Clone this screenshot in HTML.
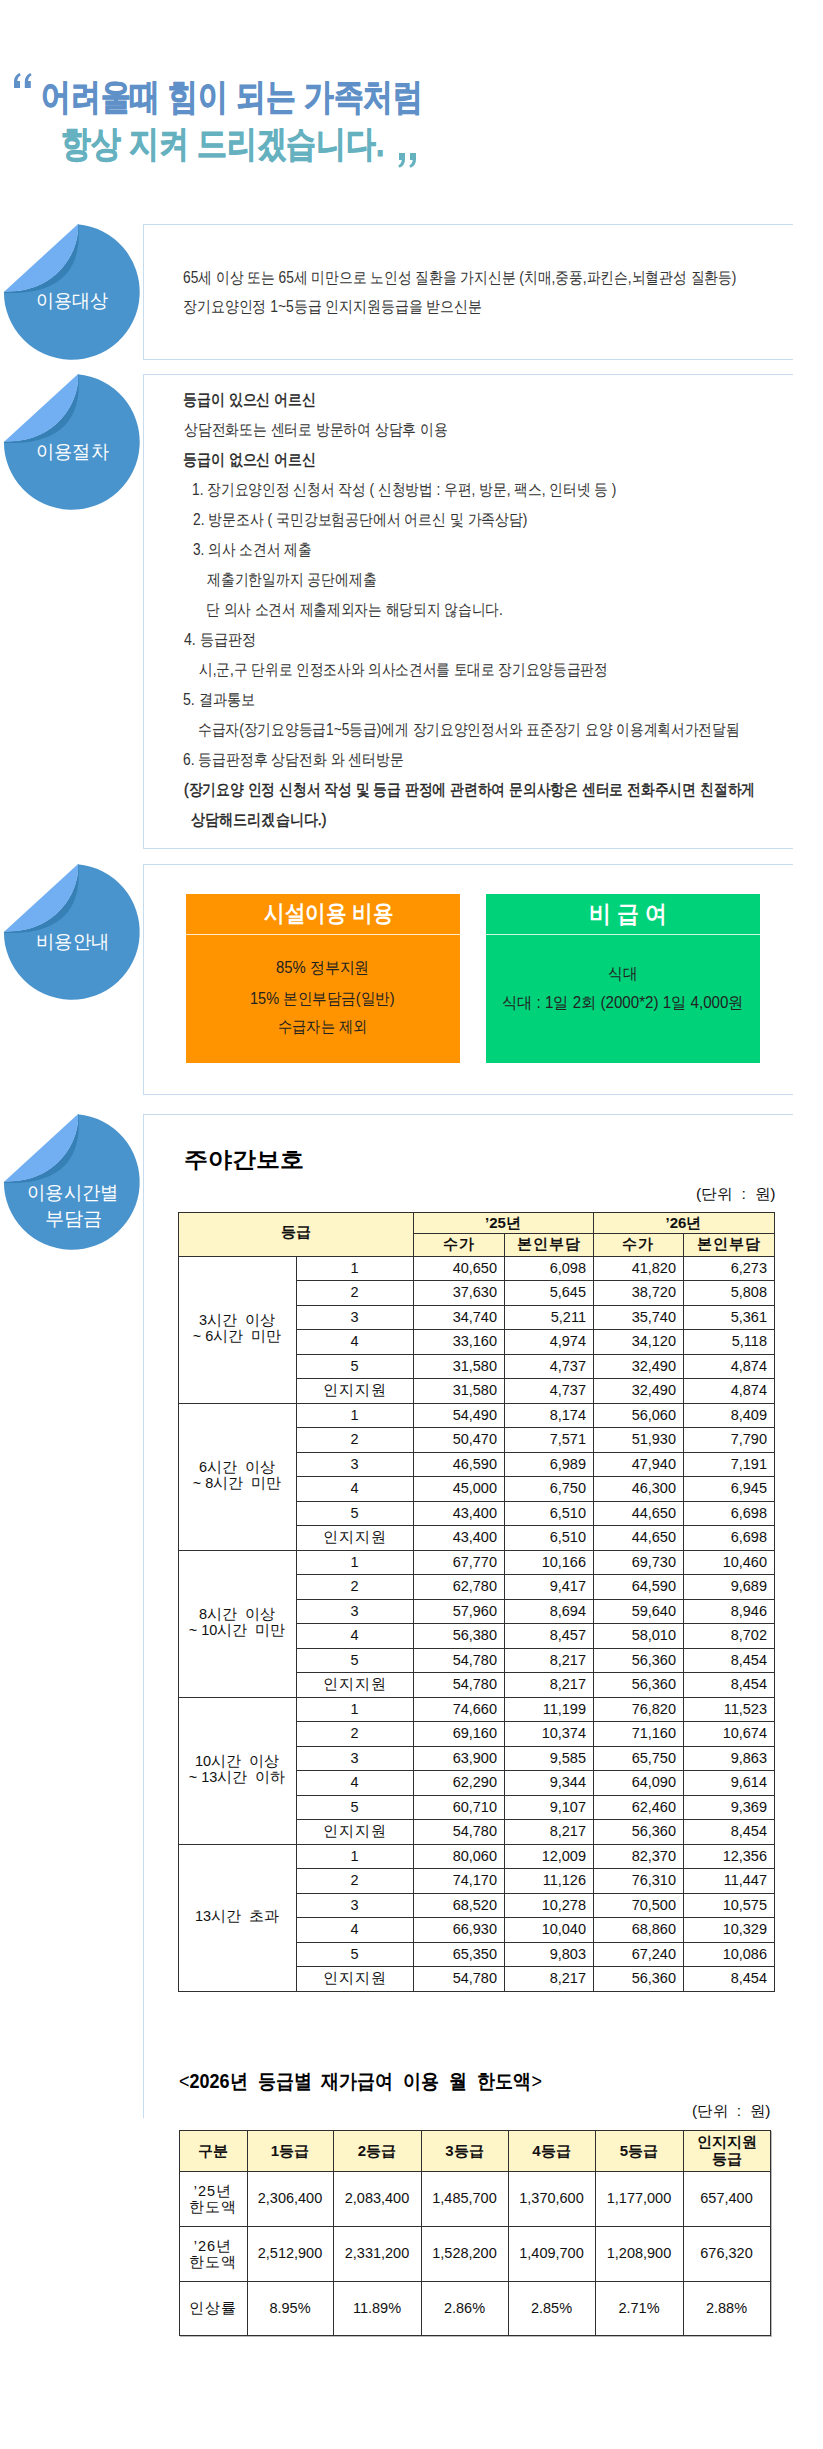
<!DOCTYPE html><html><head><meta charset="utf-8"><style>
*{margin:0;padding:0;box-sizing:border-box}
html,body{width:823px;height:2449px;background:#fff;overflow:hidden}
body{position:relative;font-family:"Liberation Sans",sans-serif}
.t{position:absolute;white-space:pre;line-height:1;transform-origin:0 0}
.box{position:absolute;left:143px;width:650px;border:1px solid #c8dcf0;border-right:none}
.badge{position:absolute;left:0;width:144px;height:140px}
.hl{position:absolute;height:1px;background:#303030}
.vl{position:absolute;width:1px;background:#303030}
.c{position:absolute;white-space:pre;line-height:1;font-size:14.5px;color:#111}
</style></head><body>
<svg style="position:absolute;left:0;top:0" width="440" height="180" viewBox="0 0 440 180">
<g fill="#6090c8">
<path d="M14,88 L20,88 L20,81 L17.3,81 Q17.6,77 20.8,75.3 L19.6,72.9 Q14,75.5 14,81.5 Z"/>
<path d="M24.8,88 L30.8,88 L30.8,81 L28.1,81 Q28.4,77 31.6,75.3 L30.4,72.9 Q24.8,75.5 24.8,81.5 Z"/>
</g>
<g fill="#66b1bf">
<path d="M399,153 L405,153 L405,159.5 Q405,165.5 399.4,167.8 L398.3,165.6 Q401.5,163.8 401.7,160 L399,160 Z"/>
<path d="M410,153 L416,153 L416,159.5 Q416,165.5 410.4,167.8 L409.3,165.6 Q412.5,163.8 412.7,160 L410,160 Z"/>
</g></svg>
<div class="box" style="top:224px;height:136px"></div>
<div class="box" style="top:374px;height:475px"></div>
<div class="box" style="top:864px;height:231px"></div>
<div class="box" style="top:1114px;height:1004px;border-bottom:none"></div>
<svg class="badge" style="top:224px" viewBox="0 0 144 140">
<path fill="#4a94cd" d="M77.8,0.3 A67.9,67.9 0 1 1 3.9,68 L4.4,67.4 C58.77,69.53 80.82,24 77.8,0.3 Z"/>
<path fill="#3680b6" d="M4.4,67.4 C58.77,69.53 80.82,24 77.8,0.3 L78.3,0.3 C83.83,58.83 43.49,70.8 4.4,68.9 Z"/>
<path fill="#72aef2" d="M4.4,67.4 L77.8,0.3 C80.82,24 58.77,69.53 4.4,67.4 Z"/>
</svg>
<svg class="badge" style="top:374px" viewBox="0 0 144 140">
<path fill="#4a94cd" d="M77.8,0.3 A67.9,67.9 0 1 1 3.9,68 L4.4,67.4 C58.77,69.53 80.82,24 77.8,0.3 Z"/>
<path fill="#3680b6" d="M4.4,67.4 C58.77,69.53 80.82,24 77.8,0.3 L78.3,0.3 C83.83,58.83 43.49,70.8 4.4,68.9 Z"/>
<path fill="#72aef2" d="M4.4,67.4 L77.8,0.3 C80.82,24 58.77,69.53 4.4,67.4 Z"/>
</svg>
<svg class="badge" style="top:864px" viewBox="0 0 144 140">
<path fill="#4a94cd" d="M77.8,0.3 A67.9,67.9 0 1 1 3.9,68 L4.4,67.4 C58.77,69.53 80.82,24 77.8,0.3 Z"/>
<path fill="#3680b6" d="M4.4,67.4 C58.77,69.53 80.82,24 77.8,0.3 L78.3,0.3 C83.83,58.83 43.49,70.8 4.4,68.9 Z"/>
<path fill="#72aef2" d="M4.4,67.4 L77.8,0.3 C80.82,24 58.77,69.53 4.4,67.4 Z"/>
</svg>
<svg class="badge" style="top:1114px" viewBox="0 0 144 140">
<path fill="#4a94cd" d="M77.8,0.3 A67.9,67.9 0 1 1 3.9,68 L4.4,67.4 C58.77,69.53 80.82,24 77.8,0.3 Z"/>
<path fill="#3680b6" d="M4.4,67.4 C58.77,69.53 80.82,24 77.8,0.3 L78.3,0.3 C83.83,58.83 43.49,70.8 4.4,68.9 Z"/>
<path fill="#72aef2" d="M4.4,67.4 L77.8,0.3 C80.82,24 58.77,69.53 4.4,67.4 Z"/>
</svg>
<div style="position:absolute;left:186px;top:894px;width:274px;height:169px;background:#ff9400"></div>
<div style="position:absolute;left:186px;top:934px;width:274px;height:1px;background:#ffe9c8"></div>
<div style="position:absolute;left:486px;top:894px;width:274px;height:169px;background:#00d27a"></div>
<div style="position:absolute;left:486px;top:934px;width:274px;height:1px;background:#d0f7e4"></div>
<div class="t" style="left:41.35px;top:78.75px;font-size:36px;font-weight:bold;color:#6090c8;font-family:'Liberation Sans',sans-serif;transform:scaleX(0.8268);-webkit-text-stroke:0.9px #6090c8;">어려울때 힘이 되는 가족처럼</div>
<div class="t" style="left:61.34px;top:126.35px;font-size:36px;font-weight:bold;color:#66b1bf;font-family:'Liberation Sans',sans-serif;transform:scaleX(0.829);-webkit-text-stroke:0.9px #66b1bf;">항상 지켜 드리겠습니다.</div>
<div class="t" style="left:183.14px;top:269.65px;font-size:16px;font-weight:normal;color:#333;font-family:'Liberation Sans',sans-serif;transform:scaleX(0.8598);">65세 이상 또는 65세 미만으로 노인성 질환을 가지신분 (치매,중풍,파킨슨,뇌혈관성 질환등)</div>
<div class="t" style="left:183.13px;top:298.75px;font-size:16px;font-weight:normal;color:#333;font-family:'Liberation Sans',sans-serif;transform:scaleX(0.8678);">장기요양인정 1~5등급 인지지원등급을 받으신분</div>
<div class="t" style="left:35.8px;top:291.4px;font-size:19px;font-weight:normal;color:#fff;font-family:'Liberation Sans',sans-serif;transform:scaleX(0.95);">이용대상</div>
<div class="t" style="left:35.98px;top:441.8px;font-size:19px;font-weight:normal;color:#fff;font-family:'Liberation Sans',sans-serif;transform:scaleX(0.9595);">이용절차</div>
<div class="t" style="left:36.47px;top:931.75px;font-size:19px;font-weight:normal;color:#fff;font-family:'Liberation Sans',sans-serif;transform:scaleX(0.9667);">비용안내</div>
<div class="t" style="left:26.87px;top:1183.25px;font-size:19px;font-weight:normal;color:#fff;font-family:'Liberation Sans',sans-serif;transform:scaleX(0.9648);">이용시간별</div>
<div class="t" style="left:44.69px;top:1208.55px;font-size:19px;font-weight:normal;color:#fff;font-family:'Liberation Sans',sans-serif;transform:scaleX(1.0055);">부담금</div>
<div class="t" style="left:263.8px;top:902.2px;font-size:23px;font-weight:bold;color:#fff;font-family:'Liberation Sans',sans-serif;transform:scaleX(0.8951);">시설이용 비용</div>
<div class="t" style="left:276.0px;top:960.0px;font-size:16px;font-weight:normal;color:#222;font-family:'Liberation Sans',sans-serif;transform:scaleX(0.9293);">85% 정부지원</div>
<div class="t" style="left:250.49px;top:990.75px;font-size:16px;font-weight:normal;color:#222;font-family:'Liberation Sans',sans-serif;transform:scaleX(0.9083);">15% 본인부담금(일반)</div>
<div class="t" style="left:278.11px;top:1019.3px;font-size:16px;font-weight:normal;color:#222;font-family:'Liberation Sans',sans-serif;transform:scaleX(0.8866);">수급자는 제외</div>
<div class="t" style="left:589.17px;top:901.7px;font-size:24px;font-weight:bold;color:#fff;font-family:'Liberation Sans',sans-serif;transform:scaleX(0.9125);">비 급 여</div>
<div class="t" style="left:607.89px;top:966.1px;font-size:16px;font-weight:normal;color:#222;font-family:'Liberation Sans',sans-serif;transform:scaleX(0.9138);">식대</div>
<div class="t" style="left:501.55px;top:995.15px;font-size:16px;font-weight:normal;color:#222;font-family:'Liberation Sans',sans-serif;transform:scaleX(0.9466);">식대 : 1일 2회 (2000*2) 1일 4,000원</div>
<div class="t" style="left:183.91px;top:1148.55px;font-size:22px;font-weight:bold;color:#000;font-family:'Liberation Serif',serif;transform:scaleX(1.0889);">주야간보호</div>
<div class="t" style="left:695.65px;top:1186.2px;font-size:15px;font-weight:normal;color:#111;font-family:'Liberation Sans',sans-serif;transform:scaleX(1.0486);">(단위  :  원)</div>
<div class="t" style="left:178.9px;top:2070.7px;font-size:20px;font-weight:bold;color:#000;font-family:'Liberation Sans',sans-serif;transform:scaleX(0.8995);"><span style="font-weight:normal">&lt;</span>2026년  등급별  재가급여  이용  월  한도액<span style="font-weight:normal">&gt;</span></div>
<div class="t" style="left:691.97px;top:2102.8px;font-size:15px;font-weight:normal;color:#111;font-family:'Liberation Sans',sans-serif;transform:scaleX(1.0338);">(단위  :  원)</div>
<div class="t" style="left:183.13px;top:391.9px;font-size:16px;font-weight:normal;color:#222;font-family:'Liberation Sans',sans-serif;transform:scaleX(0.87);-webkit-text-stroke:0.45px #222;">등급이 있으신 어르신</div>
<div class="t" style="left:183.84px;top:421.9px;font-size:16px;font-weight:normal;color:#333;font-family:'Liberation Sans',sans-serif;transform:scaleX(0.8618);">상담전화또는 센터로 방문하여 상담후 이용</div>
<div class="t" style="left:183.13px;top:451.9px;font-size:16px;font-weight:normal;color:#222;font-family:'Liberation Sans',sans-serif;transform:scaleX(0.87);-webkit-text-stroke:0.45px #222;">등급이 없으신 어르신</div>
<div class="t" style="left:191.64px;top:481.9px;font-size:16px;font-weight:normal;color:#333;font-family:'Liberation Sans',sans-serif;transform:scaleX(0.857);">1. 장기요양인정 신청서 작성 ( 신청방법 : 우편, 방문, 팩스, 인터넷 등 )</div>
<div class="t" style="left:192.5px;top:511.9px;font-size:16px;font-weight:normal;color:#333;font-family:'Liberation Sans',sans-serif;transform:scaleX(0.865);">2. 방문조사 ( 국민강보험공단에서 어르신 및 가족상담)</div>
<div class="t" style="left:192.5px;top:541.9px;font-size:16px;font-weight:normal;color:#333;font-family:'Liberation Sans',sans-serif;transform:scaleX(0.8536);">3. 의사 소견서 제출</div>
<div class="t" style="left:207.0px;top:571.9px;font-size:16px;font-weight:normal;color:#333;font-family:'Liberation Sans',sans-serif;transform:scaleX(0.8626);">제출기한일까지 공단에제출</div>
<div class="t" style="left:206.14px;top:601.9px;font-size:16px;font-weight:normal;color:#333;font-family:'Liberation Sans',sans-serif;transform:scaleX(0.8565);">단 의사 소견서 제출제외자는 해당되지 않습니다.</div>
<div class="t" style="left:183.7px;top:631.9px;font-size:16px;font-weight:normal;color:#333;font-family:'Liberation Sans',sans-serif;transform:scaleX(0.8838);">4. 등급판정</div>
<div class="t" style="left:199.3px;top:661.9px;font-size:16px;font-weight:normal;color:#333;font-family:'Liberation Sans',sans-serif;transform:scaleX(0.8526);">시,군,구 단위로 인정조사와 의사소견서를 토대로 장기요양등급판정</div>
<div class="t" style="left:182.82px;top:691.9px;font-size:16px;font-weight:normal;color:#333;font-family:'Liberation Sans',sans-serif;transform:scaleX(0.8838);">5. 결과통보</div>
<div class="t" style="left:198.44px;top:721.9px;font-size:16px;font-weight:normal;color:#333;font-family:'Liberation Sans',sans-serif;transform:scaleX(0.8576);">수급자(장기요양등급1~5등급)에게 장기요양인정서와 표준장기 요양 이용계획서가전달됨</div>
<div class="t" style="left:182.83px;top:751.9px;font-size:16px;font-weight:normal;color:#333;font-family:'Liberation Sans',sans-serif;transform:scaleX(0.8656);">6. 등급판정후 상담전화 와 센터방문</div>
<div class="t" style="left:183.84px;top:781.9px;font-size:16px;font-weight:normal;color:#222;font-family:'Liberation Sans',sans-serif;transform:scaleX(0.8624);-webkit-text-stroke:0.45px #222;">(장기요양 인정 신청서 작성 및 등급 판정에 관련하여 문의사항은 센터로 전화주시면 친절하게</div>
<div class="t" style="left:190.62px;top:811.9px;font-size:16px;font-weight:normal;color:#222;font-family:'Liberation Sans',sans-serif;transform:scaleX(0.8803);-webkit-text-stroke:0.45px #222;">상담해드리겠습니다.)</div>
<div style="position:absolute;left:178px;top:1212px;width:596px;height:44px;background:#fef5c9"></div>
<div class="hl" style="left:178px;top:1212px;width:597px"></div>
<div class="hl" style="left:413px;top:1233px;width:362px"></div>
<div class="hl" style="left:178px;top:1256px;width:597px"></div>
<div class="hl" style="left:296px;top:1280px;width:479px"></div>
<div class="hl" style="left:296px;top:1305px;width:479px"></div>
<div class="hl" style="left:296px;top:1329px;width:479px"></div>
<div class="hl" style="left:296px;top:1354px;width:479px"></div>
<div class="hl" style="left:296px;top:1378px;width:479px"></div>
<div class="hl" style="left:178px;top:1403px;width:597px"></div>
<div class="hl" style="left:296px;top:1427px;width:479px"></div>
<div class="hl" style="left:296px;top:1452px;width:479px"></div>
<div class="hl" style="left:296px;top:1476px;width:479px"></div>
<div class="hl" style="left:296px;top:1501px;width:479px"></div>
<div class="hl" style="left:296px;top:1525px;width:479px"></div>
<div class="hl" style="left:178px;top:1550px;width:597px"></div>
<div class="hl" style="left:296px;top:1574px;width:479px"></div>
<div class="hl" style="left:296px;top:1599px;width:479px"></div>
<div class="hl" style="left:296px;top:1623px;width:479px"></div>
<div class="hl" style="left:296px;top:1648px;width:479px"></div>
<div class="hl" style="left:296px;top:1672px;width:479px"></div>
<div class="hl" style="left:178px;top:1697px;width:597px"></div>
<div class="hl" style="left:296px;top:1721px;width:479px"></div>
<div class="hl" style="left:296px;top:1746px;width:479px"></div>
<div class="hl" style="left:296px;top:1770px;width:479px"></div>
<div class="hl" style="left:296px;top:1795px;width:479px"></div>
<div class="hl" style="left:296px;top:1819px;width:479px"></div>
<div class="hl" style="left:178px;top:1844px;width:597px"></div>
<div class="hl" style="left:296px;top:1868px;width:479px"></div>
<div class="hl" style="left:296px;top:1893px;width:479px"></div>
<div class="hl" style="left:296px;top:1917px;width:479px"></div>
<div class="hl" style="left:296px;top:1942px;width:479px"></div>
<div class="hl" style="left:296px;top:1966px;width:479px"></div>
<div class="hl" style="left:178px;top:1991px;width:597px"></div>
<div class="vl" style="left:178px;top:1212px;height:780px"></div>
<div class="vl" style="left:774px;top:1212px;height:780px"></div>
<div class="vl" style="left:296px;top:1256px;height:736px"></div>
<div class="vl" style="left:413px;top:1212px;height:780px"></div>
<div class="vl" style="left:593px;top:1212px;height:780px"></div>
<div class="vl" style="left:504px;top:1233px;height:759px"></div>
<div class="vl" style="left:683px;top:1233px;height:759px"></div>
<div class="c" style="left:178px;top:1209.5px;width:235px;height:44.0px;line-height:44.0px;text-align:center;font-size:15px;font-weight:bold;">등급</div>
<div class="c" style="left:413px;top:1211.5px;width:180px;height:21.0px;line-height:21.0px;text-align:center;font-size:15px;font-weight:bold;">’25년</div>
<div class="c" style="left:593px;top:1211.5px;width:181px;height:21.0px;line-height:21.0px;text-align:center;font-size:15px;font-weight:bold;">’26년</div>
<div class="c" style="left:413px;top:1231.5px;width:91px;height:23.0px;line-height:23.0px;text-align:center;font-size:15px;font-weight:bold;letter-spacing:1px;">수가</div>
<div class="c" style="left:504px;top:1231.5px;width:89px;height:23.0px;line-height:23.0px;text-align:center;font-size:15px;font-weight:bold;letter-spacing:1px;">본인부담</div>
<div class="c" style="left:593px;top:1231.5px;width:90px;height:23.0px;line-height:23.0px;text-align:center;font-size:15px;font-weight:bold;letter-spacing:1px;">수가</div>
<div class="c" style="left:683px;top:1231.5px;width:91px;height:23.0px;line-height:23.0px;text-align:center;font-size:15px;font-weight:bold;letter-spacing:1px;">본인부담</div>
<div class="c" style="left:178px;top:1312.3px;width:118px;height:16.0px;line-height:16.0px;text-align:center;font-size:14.5px;">3시간  이상</div>
<div class="c" style="left:178px;top:1328.3px;width:118px;height:16.0px;line-height:16.0px;text-align:center;font-size:14.5px;">~ 6시간  미만</div>
<div class="c" style="left:296px;top:1256px;width:117px;height:24px;line-height:24px;text-align:center;font-size:14.5px;">1</div>
<div class="c" style="left:413px;top:1256px;width:91px;height:24px;line-height:24px;text-align:right;font-size:14.5px;padding-right:7px;">40,650</div>
<div class="c" style="left:504px;top:1256px;width:89px;height:24px;line-height:24px;text-align:right;font-size:14.5px;padding-right:7px;">6,098</div>
<div class="c" style="left:593px;top:1256px;width:90px;height:24px;line-height:24px;text-align:right;font-size:14.5px;padding-right:7px;">41,820</div>
<div class="c" style="left:683px;top:1256px;width:91px;height:24px;line-height:24px;text-align:right;font-size:14.5px;padding-right:7px;">6,273</div>
<div class="c" style="left:296px;top:1280px;width:117px;height:25px;line-height:25px;text-align:center;font-size:14.5px;">2</div>
<div class="c" style="left:413px;top:1280px;width:91px;height:25px;line-height:25px;text-align:right;font-size:14.5px;padding-right:7px;">37,630</div>
<div class="c" style="left:504px;top:1280px;width:89px;height:25px;line-height:25px;text-align:right;font-size:14.5px;padding-right:7px;">5,645</div>
<div class="c" style="left:593px;top:1280px;width:90px;height:25px;line-height:25px;text-align:right;font-size:14.5px;padding-right:7px;">38,720</div>
<div class="c" style="left:683px;top:1280px;width:91px;height:25px;line-height:25px;text-align:right;font-size:14.5px;padding-right:7px;">5,808</div>
<div class="c" style="left:296px;top:1305px;width:117px;height:24px;line-height:24px;text-align:center;font-size:14.5px;">3</div>
<div class="c" style="left:413px;top:1305px;width:91px;height:24px;line-height:24px;text-align:right;font-size:14.5px;padding-right:7px;">34,740</div>
<div class="c" style="left:504px;top:1305px;width:89px;height:24px;line-height:24px;text-align:right;font-size:14.5px;padding-right:7px;">5,211</div>
<div class="c" style="left:593px;top:1305px;width:90px;height:24px;line-height:24px;text-align:right;font-size:14.5px;padding-right:7px;">35,740</div>
<div class="c" style="left:683px;top:1305px;width:91px;height:24px;line-height:24px;text-align:right;font-size:14.5px;padding-right:7px;">5,361</div>
<div class="c" style="left:296px;top:1329px;width:117px;height:25px;line-height:25px;text-align:center;font-size:14.5px;">4</div>
<div class="c" style="left:413px;top:1329px;width:91px;height:25px;line-height:25px;text-align:right;font-size:14.5px;padding-right:7px;">33,160</div>
<div class="c" style="left:504px;top:1329px;width:89px;height:25px;line-height:25px;text-align:right;font-size:14.5px;padding-right:7px;">4,974</div>
<div class="c" style="left:593px;top:1329px;width:90px;height:25px;line-height:25px;text-align:right;font-size:14.5px;padding-right:7px;">34,120</div>
<div class="c" style="left:683px;top:1329px;width:91px;height:25px;line-height:25px;text-align:right;font-size:14.5px;padding-right:7px;">5,118</div>
<div class="c" style="left:296px;top:1354px;width:117px;height:24px;line-height:24px;text-align:center;font-size:14.5px;">5</div>
<div class="c" style="left:413px;top:1354px;width:91px;height:24px;line-height:24px;text-align:right;font-size:14.5px;padding-right:7px;">31,580</div>
<div class="c" style="left:504px;top:1354px;width:89px;height:24px;line-height:24px;text-align:right;font-size:14.5px;padding-right:7px;">4,737</div>
<div class="c" style="left:593px;top:1354px;width:90px;height:24px;line-height:24px;text-align:right;font-size:14.5px;padding-right:7px;">32,490</div>
<div class="c" style="left:683px;top:1354px;width:91px;height:24px;line-height:24px;text-align:right;font-size:14.5px;padding-right:7px;">4,874</div>
<div class="c" style="left:296px;top:1378px;width:117px;height:25px;line-height:25px;text-align:center;font-size:14.5px;letter-spacing:1px;">인지지원</div>
<div class="c" style="left:413px;top:1378px;width:91px;height:25px;line-height:25px;text-align:right;font-size:14.5px;padding-right:7px;">31,580</div>
<div class="c" style="left:504px;top:1378px;width:89px;height:25px;line-height:25px;text-align:right;font-size:14.5px;padding-right:7px;">4,737</div>
<div class="c" style="left:593px;top:1378px;width:90px;height:25px;line-height:25px;text-align:right;font-size:14.5px;padding-right:7px;">32,490</div>
<div class="c" style="left:683px;top:1378px;width:91px;height:25px;line-height:25px;text-align:right;font-size:14.5px;padding-right:7px;">4,874</div>
<div class="c" style="left:178px;top:1459.3px;width:118px;height:16.0px;line-height:16.0px;text-align:center;font-size:14.5px;">6시간  이상</div>
<div class="c" style="left:178px;top:1475.3px;width:118px;height:16.0px;line-height:16.0px;text-align:center;font-size:14.5px;">~ 8시간  미만</div>
<div class="c" style="left:296px;top:1403px;width:117px;height:24px;line-height:24px;text-align:center;font-size:14.5px;">1</div>
<div class="c" style="left:413px;top:1403px;width:91px;height:24px;line-height:24px;text-align:right;font-size:14.5px;padding-right:7px;">54,490</div>
<div class="c" style="left:504px;top:1403px;width:89px;height:24px;line-height:24px;text-align:right;font-size:14.5px;padding-right:7px;">8,174</div>
<div class="c" style="left:593px;top:1403px;width:90px;height:24px;line-height:24px;text-align:right;font-size:14.5px;padding-right:7px;">56,060</div>
<div class="c" style="left:683px;top:1403px;width:91px;height:24px;line-height:24px;text-align:right;font-size:14.5px;padding-right:7px;">8,409</div>
<div class="c" style="left:296px;top:1427px;width:117px;height:25px;line-height:25px;text-align:center;font-size:14.5px;">2</div>
<div class="c" style="left:413px;top:1427px;width:91px;height:25px;line-height:25px;text-align:right;font-size:14.5px;padding-right:7px;">50,470</div>
<div class="c" style="left:504px;top:1427px;width:89px;height:25px;line-height:25px;text-align:right;font-size:14.5px;padding-right:7px;">7,571</div>
<div class="c" style="left:593px;top:1427px;width:90px;height:25px;line-height:25px;text-align:right;font-size:14.5px;padding-right:7px;">51,930</div>
<div class="c" style="left:683px;top:1427px;width:91px;height:25px;line-height:25px;text-align:right;font-size:14.5px;padding-right:7px;">7,790</div>
<div class="c" style="left:296px;top:1452px;width:117px;height:24px;line-height:24px;text-align:center;font-size:14.5px;">3</div>
<div class="c" style="left:413px;top:1452px;width:91px;height:24px;line-height:24px;text-align:right;font-size:14.5px;padding-right:7px;">46,590</div>
<div class="c" style="left:504px;top:1452px;width:89px;height:24px;line-height:24px;text-align:right;font-size:14.5px;padding-right:7px;">6,989</div>
<div class="c" style="left:593px;top:1452px;width:90px;height:24px;line-height:24px;text-align:right;font-size:14.5px;padding-right:7px;">47,940</div>
<div class="c" style="left:683px;top:1452px;width:91px;height:24px;line-height:24px;text-align:right;font-size:14.5px;padding-right:7px;">7,191</div>
<div class="c" style="left:296px;top:1476px;width:117px;height:25px;line-height:25px;text-align:center;font-size:14.5px;">4</div>
<div class="c" style="left:413px;top:1476px;width:91px;height:25px;line-height:25px;text-align:right;font-size:14.5px;padding-right:7px;">45,000</div>
<div class="c" style="left:504px;top:1476px;width:89px;height:25px;line-height:25px;text-align:right;font-size:14.5px;padding-right:7px;">6,750</div>
<div class="c" style="left:593px;top:1476px;width:90px;height:25px;line-height:25px;text-align:right;font-size:14.5px;padding-right:7px;">46,300</div>
<div class="c" style="left:683px;top:1476px;width:91px;height:25px;line-height:25px;text-align:right;font-size:14.5px;padding-right:7px;">6,945</div>
<div class="c" style="left:296px;top:1501px;width:117px;height:24px;line-height:24px;text-align:center;font-size:14.5px;">5</div>
<div class="c" style="left:413px;top:1501px;width:91px;height:24px;line-height:24px;text-align:right;font-size:14.5px;padding-right:7px;">43,400</div>
<div class="c" style="left:504px;top:1501px;width:89px;height:24px;line-height:24px;text-align:right;font-size:14.5px;padding-right:7px;">6,510</div>
<div class="c" style="left:593px;top:1501px;width:90px;height:24px;line-height:24px;text-align:right;font-size:14.5px;padding-right:7px;">44,650</div>
<div class="c" style="left:683px;top:1501px;width:91px;height:24px;line-height:24px;text-align:right;font-size:14.5px;padding-right:7px;">6,698</div>
<div class="c" style="left:296px;top:1525px;width:117px;height:25px;line-height:25px;text-align:center;font-size:14.5px;letter-spacing:1px;">인지지원</div>
<div class="c" style="left:413px;top:1525px;width:91px;height:25px;line-height:25px;text-align:right;font-size:14.5px;padding-right:7px;">43,400</div>
<div class="c" style="left:504px;top:1525px;width:89px;height:25px;line-height:25px;text-align:right;font-size:14.5px;padding-right:7px;">6,510</div>
<div class="c" style="left:593px;top:1525px;width:90px;height:25px;line-height:25px;text-align:right;font-size:14.5px;padding-right:7px;">44,650</div>
<div class="c" style="left:683px;top:1525px;width:91px;height:25px;line-height:25px;text-align:right;font-size:14.5px;padding-right:7px;">6,698</div>
<div class="c" style="left:178px;top:1606.3px;width:118px;height:16.0px;line-height:16.0px;text-align:center;font-size:14.5px;">8시간  이상</div>
<div class="c" style="left:178px;top:1622.3px;width:118px;height:16.0px;line-height:16.0px;text-align:center;font-size:14.5px;">~ 10시간  미만</div>
<div class="c" style="left:296px;top:1550px;width:117px;height:24px;line-height:24px;text-align:center;font-size:14.5px;">1</div>
<div class="c" style="left:413px;top:1550px;width:91px;height:24px;line-height:24px;text-align:right;font-size:14.5px;padding-right:7px;">67,770</div>
<div class="c" style="left:504px;top:1550px;width:89px;height:24px;line-height:24px;text-align:right;font-size:14.5px;padding-right:7px;">10,166</div>
<div class="c" style="left:593px;top:1550px;width:90px;height:24px;line-height:24px;text-align:right;font-size:14.5px;padding-right:7px;">69,730</div>
<div class="c" style="left:683px;top:1550px;width:91px;height:24px;line-height:24px;text-align:right;font-size:14.5px;padding-right:7px;">10,460</div>
<div class="c" style="left:296px;top:1574px;width:117px;height:25px;line-height:25px;text-align:center;font-size:14.5px;">2</div>
<div class="c" style="left:413px;top:1574px;width:91px;height:25px;line-height:25px;text-align:right;font-size:14.5px;padding-right:7px;">62,780</div>
<div class="c" style="left:504px;top:1574px;width:89px;height:25px;line-height:25px;text-align:right;font-size:14.5px;padding-right:7px;">9,417</div>
<div class="c" style="left:593px;top:1574px;width:90px;height:25px;line-height:25px;text-align:right;font-size:14.5px;padding-right:7px;">64,590</div>
<div class="c" style="left:683px;top:1574px;width:91px;height:25px;line-height:25px;text-align:right;font-size:14.5px;padding-right:7px;">9,689</div>
<div class="c" style="left:296px;top:1599px;width:117px;height:24px;line-height:24px;text-align:center;font-size:14.5px;">3</div>
<div class="c" style="left:413px;top:1599px;width:91px;height:24px;line-height:24px;text-align:right;font-size:14.5px;padding-right:7px;">57,960</div>
<div class="c" style="left:504px;top:1599px;width:89px;height:24px;line-height:24px;text-align:right;font-size:14.5px;padding-right:7px;">8,694</div>
<div class="c" style="left:593px;top:1599px;width:90px;height:24px;line-height:24px;text-align:right;font-size:14.5px;padding-right:7px;">59,640</div>
<div class="c" style="left:683px;top:1599px;width:91px;height:24px;line-height:24px;text-align:right;font-size:14.5px;padding-right:7px;">8,946</div>
<div class="c" style="left:296px;top:1623px;width:117px;height:25px;line-height:25px;text-align:center;font-size:14.5px;">4</div>
<div class="c" style="left:413px;top:1623px;width:91px;height:25px;line-height:25px;text-align:right;font-size:14.5px;padding-right:7px;">56,380</div>
<div class="c" style="left:504px;top:1623px;width:89px;height:25px;line-height:25px;text-align:right;font-size:14.5px;padding-right:7px;">8,457</div>
<div class="c" style="left:593px;top:1623px;width:90px;height:25px;line-height:25px;text-align:right;font-size:14.5px;padding-right:7px;">58,010</div>
<div class="c" style="left:683px;top:1623px;width:91px;height:25px;line-height:25px;text-align:right;font-size:14.5px;padding-right:7px;">8,702</div>
<div class="c" style="left:296px;top:1648px;width:117px;height:24px;line-height:24px;text-align:center;font-size:14.5px;">5</div>
<div class="c" style="left:413px;top:1648px;width:91px;height:24px;line-height:24px;text-align:right;font-size:14.5px;padding-right:7px;">54,780</div>
<div class="c" style="left:504px;top:1648px;width:89px;height:24px;line-height:24px;text-align:right;font-size:14.5px;padding-right:7px;">8,217</div>
<div class="c" style="left:593px;top:1648px;width:90px;height:24px;line-height:24px;text-align:right;font-size:14.5px;padding-right:7px;">56,360</div>
<div class="c" style="left:683px;top:1648px;width:91px;height:24px;line-height:24px;text-align:right;font-size:14.5px;padding-right:7px;">8,454</div>
<div class="c" style="left:296px;top:1672px;width:117px;height:25px;line-height:25px;text-align:center;font-size:14.5px;letter-spacing:1px;">인지지원</div>
<div class="c" style="left:413px;top:1672px;width:91px;height:25px;line-height:25px;text-align:right;font-size:14.5px;padding-right:7px;">54,780</div>
<div class="c" style="left:504px;top:1672px;width:89px;height:25px;line-height:25px;text-align:right;font-size:14.5px;padding-right:7px;">8,217</div>
<div class="c" style="left:593px;top:1672px;width:90px;height:25px;line-height:25px;text-align:right;font-size:14.5px;padding-right:7px;">56,360</div>
<div class="c" style="left:683px;top:1672px;width:91px;height:25px;line-height:25px;text-align:right;font-size:14.5px;padding-right:7px;">8,454</div>
<div class="c" style="left:178px;top:1753.3px;width:118px;height:16.0px;line-height:16.0px;text-align:center;font-size:14.5px;">10시간  이상</div>
<div class="c" style="left:178px;top:1769.3px;width:118px;height:16.0px;line-height:16.0px;text-align:center;font-size:14.5px;">~ 13시간  이하</div>
<div class="c" style="left:296px;top:1697px;width:117px;height:24px;line-height:24px;text-align:center;font-size:14.5px;">1</div>
<div class="c" style="left:413px;top:1697px;width:91px;height:24px;line-height:24px;text-align:right;font-size:14.5px;padding-right:7px;">74,660</div>
<div class="c" style="left:504px;top:1697px;width:89px;height:24px;line-height:24px;text-align:right;font-size:14.5px;padding-right:7px;">11,199</div>
<div class="c" style="left:593px;top:1697px;width:90px;height:24px;line-height:24px;text-align:right;font-size:14.5px;padding-right:7px;">76,820</div>
<div class="c" style="left:683px;top:1697px;width:91px;height:24px;line-height:24px;text-align:right;font-size:14.5px;padding-right:7px;">11,523</div>
<div class="c" style="left:296px;top:1721px;width:117px;height:25px;line-height:25px;text-align:center;font-size:14.5px;">2</div>
<div class="c" style="left:413px;top:1721px;width:91px;height:25px;line-height:25px;text-align:right;font-size:14.5px;padding-right:7px;">69,160</div>
<div class="c" style="left:504px;top:1721px;width:89px;height:25px;line-height:25px;text-align:right;font-size:14.5px;padding-right:7px;">10,374</div>
<div class="c" style="left:593px;top:1721px;width:90px;height:25px;line-height:25px;text-align:right;font-size:14.5px;padding-right:7px;">71,160</div>
<div class="c" style="left:683px;top:1721px;width:91px;height:25px;line-height:25px;text-align:right;font-size:14.5px;padding-right:7px;">10,674</div>
<div class="c" style="left:296px;top:1746px;width:117px;height:24px;line-height:24px;text-align:center;font-size:14.5px;">3</div>
<div class="c" style="left:413px;top:1746px;width:91px;height:24px;line-height:24px;text-align:right;font-size:14.5px;padding-right:7px;">63,900</div>
<div class="c" style="left:504px;top:1746px;width:89px;height:24px;line-height:24px;text-align:right;font-size:14.5px;padding-right:7px;">9,585</div>
<div class="c" style="left:593px;top:1746px;width:90px;height:24px;line-height:24px;text-align:right;font-size:14.5px;padding-right:7px;">65,750</div>
<div class="c" style="left:683px;top:1746px;width:91px;height:24px;line-height:24px;text-align:right;font-size:14.5px;padding-right:7px;">9,863</div>
<div class="c" style="left:296px;top:1770px;width:117px;height:25px;line-height:25px;text-align:center;font-size:14.5px;">4</div>
<div class="c" style="left:413px;top:1770px;width:91px;height:25px;line-height:25px;text-align:right;font-size:14.5px;padding-right:7px;">62,290</div>
<div class="c" style="left:504px;top:1770px;width:89px;height:25px;line-height:25px;text-align:right;font-size:14.5px;padding-right:7px;">9,344</div>
<div class="c" style="left:593px;top:1770px;width:90px;height:25px;line-height:25px;text-align:right;font-size:14.5px;padding-right:7px;">64,090</div>
<div class="c" style="left:683px;top:1770px;width:91px;height:25px;line-height:25px;text-align:right;font-size:14.5px;padding-right:7px;">9,614</div>
<div class="c" style="left:296px;top:1795px;width:117px;height:24px;line-height:24px;text-align:center;font-size:14.5px;">5</div>
<div class="c" style="left:413px;top:1795px;width:91px;height:24px;line-height:24px;text-align:right;font-size:14.5px;padding-right:7px;">60,710</div>
<div class="c" style="left:504px;top:1795px;width:89px;height:24px;line-height:24px;text-align:right;font-size:14.5px;padding-right:7px;">9,107</div>
<div class="c" style="left:593px;top:1795px;width:90px;height:24px;line-height:24px;text-align:right;font-size:14.5px;padding-right:7px;">62,460</div>
<div class="c" style="left:683px;top:1795px;width:91px;height:24px;line-height:24px;text-align:right;font-size:14.5px;padding-right:7px;">9,369</div>
<div class="c" style="left:296px;top:1819px;width:117px;height:25px;line-height:25px;text-align:center;font-size:14.5px;letter-spacing:1px;">인지지원</div>
<div class="c" style="left:413px;top:1819px;width:91px;height:25px;line-height:25px;text-align:right;font-size:14.5px;padding-right:7px;">54,780</div>
<div class="c" style="left:504px;top:1819px;width:89px;height:25px;line-height:25px;text-align:right;font-size:14.5px;padding-right:7px;">8,217</div>
<div class="c" style="left:593px;top:1819px;width:90px;height:25px;line-height:25px;text-align:right;font-size:14.5px;padding-right:7px;">56,360</div>
<div class="c" style="left:683px;top:1819px;width:91px;height:25px;line-height:25px;text-align:right;font-size:14.5px;padding-right:7px;">8,454</div>
<div class="c" style="left:178px;top:1908.3px;width:118px;height:16.0px;line-height:16.0px;text-align:center;font-size:14.5px;">13시간  초과</div>
<div class="c" style="left:296px;top:1844px;width:117px;height:24px;line-height:24px;text-align:center;font-size:14.5px;">1</div>
<div class="c" style="left:413px;top:1844px;width:91px;height:24px;line-height:24px;text-align:right;font-size:14.5px;padding-right:7px;">80,060</div>
<div class="c" style="left:504px;top:1844px;width:89px;height:24px;line-height:24px;text-align:right;font-size:14.5px;padding-right:7px;">12,009</div>
<div class="c" style="left:593px;top:1844px;width:90px;height:24px;line-height:24px;text-align:right;font-size:14.5px;padding-right:7px;">82,370</div>
<div class="c" style="left:683px;top:1844px;width:91px;height:24px;line-height:24px;text-align:right;font-size:14.5px;padding-right:7px;">12,356</div>
<div class="c" style="left:296px;top:1868px;width:117px;height:25px;line-height:25px;text-align:center;font-size:14.5px;">2</div>
<div class="c" style="left:413px;top:1868px;width:91px;height:25px;line-height:25px;text-align:right;font-size:14.5px;padding-right:7px;">74,170</div>
<div class="c" style="left:504px;top:1868px;width:89px;height:25px;line-height:25px;text-align:right;font-size:14.5px;padding-right:7px;">11,126</div>
<div class="c" style="left:593px;top:1868px;width:90px;height:25px;line-height:25px;text-align:right;font-size:14.5px;padding-right:7px;">76,310</div>
<div class="c" style="left:683px;top:1868px;width:91px;height:25px;line-height:25px;text-align:right;font-size:14.5px;padding-right:7px;">11,447</div>
<div class="c" style="left:296px;top:1893px;width:117px;height:24px;line-height:24px;text-align:center;font-size:14.5px;">3</div>
<div class="c" style="left:413px;top:1893px;width:91px;height:24px;line-height:24px;text-align:right;font-size:14.5px;padding-right:7px;">68,520</div>
<div class="c" style="left:504px;top:1893px;width:89px;height:24px;line-height:24px;text-align:right;font-size:14.5px;padding-right:7px;">10,278</div>
<div class="c" style="left:593px;top:1893px;width:90px;height:24px;line-height:24px;text-align:right;font-size:14.5px;padding-right:7px;">70,500</div>
<div class="c" style="left:683px;top:1893px;width:91px;height:24px;line-height:24px;text-align:right;font-size:14.5px;padding-right:7px;">10,575</div>
<div class="c" style="left:296px;top:1917px;width:117px;height:25px;line-height:25px;text-align:center;font-size:14.5px;">4</div>
<div class="c" style="left:413px;top:1917px;width:91px;height:25px;line-height:25px;text-align:right;font-size:14.5px;padding-right:7px;">66,930</div>
<div class="c" style="left:504px;top:1917px;width:89px;height:25px;line-height:25px;text-align:right;font-size:14.5px;padding-right:7px;">10,040</div>
<div class="c" style="left:593px;top:1917px;width:90px;height:25px;line-height:25px;text-align:right;font-size:14.5px;padding-right:7px;">68,860</div>
<div class="c" style="left:683px;top:1917px;width:91px;height:25px;line-height:25px;text-align:right;font-size:14.5px;padding-right:7px;">10,329</div>
<div class="c" style="left:296px;top:1942px;width:117px;height:24px;line-height:24px;text-align:center;font-size:14.5px;">5</div>
<div class="c" style="left:413px;top:1942px;width:91px;height:24px;line-height:24px;text-align:right;font-size:14.5px;padding-right:7px;">65,350</div>
<div class="c" style="left:504px;top:1942px;width:89px;height:24px;line-height:24px;text-align:right;font-size:14.5px;padding-right:7px;">9,803</div>
<div class="c" style="left:593px;top:1942px;width:90px;height:24px;line-height:24px;text-align:right;font-size:14.5px;padding-right:7px;">67,240</div>
<div class="c" style="left:683px;top:1942px;width:91px;height:24px;line-height:24px;text-align:right;font-size:14.5px;padding-right:7px;">10,086</div>
<div class="c" style="left:296px;top:1966px;width:117px;height:25px;line-height:25px;text-align:center;font-size:14.5px;letter-spacing:1px;">인지지원</div>
<div class="c" style="left:413px;top:1966px;width:91px;height:25px;line-height:25px;text-align:right;font-size:14.5px;padding-right:7px;">54,780</div>
<div class="c" style="left:504px;top:1966px;width:89px;height:25px;line-height:25px;text-align:right;font-size:14.5px;padding-right:7px;">8,217</div>
<div class="c" style="left:593px;top:1966px;width:90px;height:25px;line-height:25px;text-align:right;font-size:14.5px;padding-right:7px;">56,360</div>
<div class="c" style="left:683px;top:1966px;width:91px;height:25px;line-height:25px;text-align:right;font-size:14.5px;padding-right:7px;">8,454</div>
<div style="position:absolute;left:179px;top:2130px;width:591px;height:41px;background:#fef5c9"></div>
<div class="hl" style="left:179px;top:2130px;width:592px"></div>
<div class="hl" style="left:179px;top:2171px;width:592px"></div>
<div class="hl" style="left:179px;top:2226px;width:592px"></div>
<div class="hl" style="left:179px;top:2281px;width:592px"></div>
<div class="hl" style="left:179px;top:2335px;width:592px"></div>
<div class="vl" style="left:179px;top:2130px;height:206px"></div>
<div class="vl" style="left:247px;top:2130px;height:206px"></div>
<div class="vl" style="left:333px;top:2130px;height:206px"></div>
<div class="vl" style="left:421px;top:2130px;height:206px"></div>
<div class="vl" style="left:508px;top:2130px;height:206px"></div>
<div class="vl" style="left:595px;top:2130px;height:206px"></div>
<div class="vl" style="left:683px;top:2130px;height:206px"></div>
<div class="vl" style="left:770px;top:2130px;height:206px"></div>
<div class="vl" style="left:771px;top:2131px;height:206px;background:#bbb"></div>
<div class="hl" style="left:180px;top:2336px;width:592px;background:#bbb"></div>
<div class="c" style="left:179px;top:2130px;width:68px;height:41px;line-height:41px;text-align:center;font-size:15px;font-weight:bold;">구분</div>
<div class="c" style="left:247px;top:2130px;width:86px;height:41px;line-height:41px;text-align:center;font-size:15px;font-weight:bold;">1등급</div>
<div class="c" style="left:333px;top:2130px;width:88px;height:41px;line-height:41px;text-align:center;font-size:15px;font-weight:bold;">2등급</div>
<div class="c" style="left:421px;top:2130px;width:87px;height:41px;line-height:41px;text-align:center;font-size:15px;font-weight:bold;">3등급</div>
<div class="c" style="left:508px;top:2130px;width:87px;height:41px;line-height:41px;text-align:center;font-size:15px;font-weight:bold;">4등급</div>
<div class="c" style="left:595px;top:2130px;width:88px;height:41px;line-height:41px;text-align:center;font-size:15px;font-weight:bold;">5등급</div>
<div class="c" style="left:683px;top:2133px;width:87px;height:17px;line-height:17px;text-align:center;font-size:15px;font-weight:bold;">인지지원</div>
<div class="c" style="left:683px;top:2150px;width:87px;height:17px;line-height:17px;text-align:center;font-size:15px;font-weight:bold;">등급</div>
<div class="c" style="left:179px;top:2182.5px;width:68px;height:16.0px;line-height:16.0px;text-align:center;font-size:14.5px;letter-spacing:1px;">’25년</div>
<div class="c" style="left:179px;top:2198.5px;width:68px;height:16.0px;line-height:16.0px;text-align:center;font-size:14.5px;letter-spacing:1px;">한도액</div>
<div class="c" style="left:247px;top:2171px;width:86px;height:55px;line-height:55px;text-align:center;font-size:14.5px;">2,306,400</div>
<div class="c" style="left:333px;top:2171px;width:88px;height:55px;line-height:55px;text-align:center;font-size:14.5px;">2,083,400</div>
<div class="c" style="left:421px;top:2171px;width:87px;height:55px;line-height:55px;text-align:center;font-size:14.5px;">1,485,700</div>
<div class="c" style="left:508px;top:2171px;width:87px;height:55px;line-height:55px;text-align:center;font-size:14.5px;">1,370,600</div>
<div class="c" style="left:595px;top:2171px;width:88px;height:55px;line-height:55px;text-align:center;font-size:14.5px;">1,177,000</div>
<div class="c" style="left:683px;top:2171px;width:87px;height:55px;line-height:55px;text-align:center;font-size:14.5px;">657,400</div>
<div class="c" style="left:179px;top:2237.5px;width:68px;height:16.0px;line-height:16.0px;text-align:center;font-size:14.5px;letter-spacing:1px;">’26년</div>
<div class="c" style="left:179px;top:2253.5px;width:68px;height:16.0px;line-height:16.0px;text-align:center;font-size:14.5px;letter-spacing:1px;">한도액</div>
<div class="c" style="left:247px;top:2226px;width:86px;height:55px;line-height:55px;text-align:center;font-size:14.5px;">2,512,900</div>
<div class="c" style="left:333px;top:2226px;width:88px;height:55px;line-height:55px;text-align:center;font-size:14.5px;">2,331,200</div>
<div class="c" style="left:421px;top:2226px;width:87px;height:55px;line-height:55px;text-align:center;font-size:14.5px;">1,528,200</div>
<div class="c" style="left:508px;top:2226px;width:87px;height:55px;line-height:55px;text-align:center;font-size:14.5px;">1,409,700</div>
<div class="c" style="left:595px;top:2226px;width:88px;height:55px;line-height:55px;text-align:center;font-size:14.5px;">1,208,900</div>
<div class="c" style="left:683px;top:2226px;width:87px;height:55px;line-height:55px;text-align:center;font-size:14.5px;">676,320</div>
<div class="c" style="left:179px;top:2300.0px;width:68px;height:16.0px;line-height:16.0px;text-align:center;font-size:14.5px;letter-spacing:1px;">인상률</div>
<div class="c" style="left:247px;top:2281px;width:86px;height:54px;line-height:54px;text-align:center;font-size:14.5px;">8.95%</div>
<div class="c" style="left:333px;top:2281px;width:88px;height:54px;line-height:54px;text-align:center;font-size:14.5px;">11.89%</div>
<div class="c" style="left:421px;top:2281px;width:87px;height:54px;line-height:54px;text-align:center;font-size:14.5px;">2.86%</div>
<div class="c" style="left:508px;top:2281px;width:87px;height:54px;line-height:54px;text-align:center;font-size:14.5px;">2.85%</div>
<div class="c" style="left:595px;top:2281px;width:88px;height:54px;line-height:54px;text-align:center;font-size:14.5px;">2.71%</div>
<div class="c" style="left:683px;top:2281px;width:87px;height:54px;line-height:54px;text-align:center;font-size:14.5px;">2.88%</div>
</body></html>
